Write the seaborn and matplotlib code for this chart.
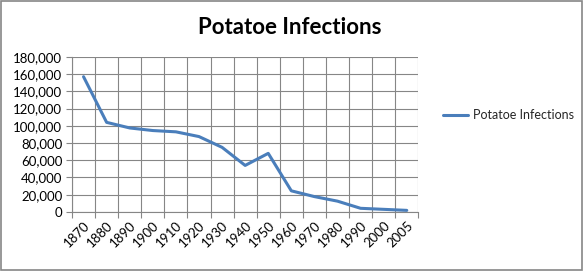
import matplotlib
matplotlib.use("Agg")
import matplotlib.pyplot as plt
from matplotlib.patches import Rectangle
from matplotlib.ticker import FuncFormatter, FixedLocator
import seaborn as sns
import pandas as pd
import numpy as np

years = ["1870", "1880", "1890", "1900", "1910", "1920", "1930",
         "1940", "1950", "1960", "1970", "1980", "1990", "2000", "2005"]
infections = [157000, 104000, 97500, 94500, 93000, 87500, 75000,
              54000, 68000, 24500, 17800, 12500, 4200, 3000, 1800]
series_name = "Potatoe Infections"

df = pd.DataFrame({"year": years, "value": infections})

sns.set_style("white")
plt.rcParams["font.family"] = ["Lato", "DejaVu Sans"]

fig = plt.figure(figsize=(5.83, 2.71), dpi=100)
ax = fig.add_axes([0.1235, 0.218, 0.594, 0.572])

sns.lineplot(data=df, x="year", y="value", ax=ax, color="#4a7ebb",
             linewidth=2.2, label=series_name, sort=False)

n = len(years)
ax.set_xlim(-0.5, n - 0.5)
ax.set_ylim(0, 180000)
ax.set_yticks(np.arange(0, 180001, 20000))
ax.yaxis.set_major_formatter(FuncFormatter(lambda v, p: f"{int(v):,}"))

ax.xaxis.set_major_locator(FixedLocator(np.arange(-0.5, n, 1.0)))
ax.xaxis.set_minor_locator(FixedLocator(np.arange(0, n, 1.0)))
ax.set_xticklabels([], minor=False)
ax.set_xticklabels(years, minor=True, rotation=45, ha="right",
                   rotation_mode="anchor", fontsize=9.5, color="#000000")
ax.tick_params(axis="x", which="major", length=4, width=0.8, color="#868686",
               direction="out", bottom=True)
ax.tick_params(axis="x", which="minor", length=0, pad=5, bottom=True)
ax.tick_params(axis="y", length=4, width=0.8, color="#868686", direction="out",
               labelsize=9.5, labelcolor="#000000", left=True, pad=3)

ax.grid(True, which="major", color="#868686", linewidth=0.8)
for s in ["top", "right"]:
    ax.spines[s].set_visible(False)
for s in ["left", "bottom"]:
    ax.spines[s].set_color("#868686")
    ax.spines[s].set_linewidth(0.8)
ax.set_xlabel("")
ax.set_ylabel("")
ax.set_axisbelow(True)

ax.get_legend().remove()
h, l = ax.get_legend_handles_labels()
fig.legend(h, l, loc="center left", bbox_to_anchor=(0.74, 0.575),
           frameon=False, fontsize=9, handlelength=2.0, handletextpad=0.4)

fig.text(0.497, 0.90, "Potatoe Infections", ha="center", va="center",
         fontsize=16, fontweight="bold", color="#000000")

fig.patches.append(Rectangle((0.0015, 0.003), 0.996, 0.993, transform=fig.transFigure,
                             fill=False, edgecolor="#868686", linewidth=1.2))

fig.savefig("out.png", dpi=100, facecolor="white")
